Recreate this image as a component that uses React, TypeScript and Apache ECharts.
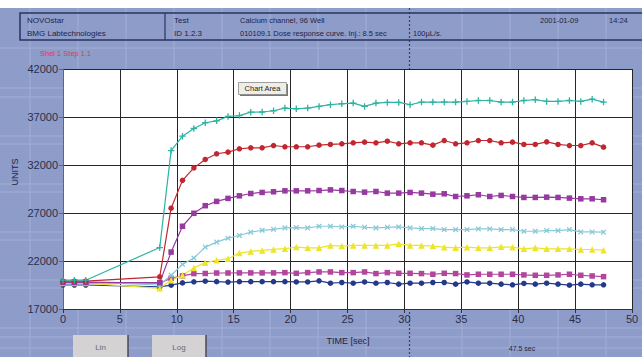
import React, { useEffect, useRef } from "react";
import * as echarts from "echarts";

const times = [0, 1, 2, 8.5, 9.5, 10.5, 11.5, 12.5, 13.5, 14.5, 15.5, 16.5, 17.5, 18.5, 19.5, 20.5, 21.5, 22.5, 23.5, 24.5, 25.5, 26.5, 27.5, 28.5, 29.5, 30.5, 31.5, 32.5, 33.5, 34.5, 35.5, 36.5, 37.5, 38.5, 39.5, 40.5, 41.5, 42.5, 43.5, 44.5, 45.5, 46.5, 47.5];

const cyanVals = [20000, 20000, 20000, 23400, 33500, 35000, 35800, 36400, 36600, 37050, 37150, 37500, 37520, 37650, 37930, 37860, 37930, 38100, 38280, 38380, 38450, 38100, 38450, 38520, 38520, 38280, 38550, 38550, 38550, 38550, 38620, 38720, 38720, 38550, 38550, 38720, 38800, 38620, 38620, 38720, 38620, 38860, 38550];
const redVals = [19900, 19900, 19900, 20350, 27500, 30400, 31700, 32580, 33170, 33340, 33690, 33790, 33790, 34030, 33900, 33900, 33900, 34070, 34140, 34210, 34310, 34380, 34310, 34480, 34210, 34310, 34310, 34070, 34550, 34210, 34310, 34550, 34550, 34310, 34380, 34140, 34140, 34410, 34140, 34030, 34030, 34310, 33860];
const purpleVals = [19750, 19750, 19750, 19750, 22930, 25620, 26970, 27760, 28210, 28520, 28790, 29030, 29140, 29210, 29310, 29310, 29310, 29340, 29410, 29340, 29240, 29170, 29240, 29070, 29070, 29140, 29070, 28960, 29000, 28720, 28790, 28900, 28720, 28830, 28720, 28620, 28620, 28650, 28620, 28550, 28480, 28480, 28380];
const lightCyanVals = [19800, 19800, 19800, 19500, 20520, 21650, 22310, 23450, 23970, 24380, 24660, 25000, 25200, 25300, 25450, 25480, 25450, 25620, 25620, 25550, 25620, 25510, 25450, 25510, 25550, 25450, 25380, 25380, 25270, 25270, 25270, 25340, 25340, 25270, 25270, 25100, 25100, 25170, 25170, 25270, 25030, 25030, 25000];
const yellowVals = [19700, 19700, 19700, 19150, 20000, 20520, 21280, 21830, 22070, 22240, 22830, 23000, 23100, 23210, 23280, 23450, 23375, 23375, 23620, 23550, 23620, 23620, 23620, 23620, 23790, 23620, 23620, 23550, 23440, 23375, 23440, 23375, 23375, 23480, 23440, 23270, 23375, 23270, 23270, 23270, 23200, 23200, 23130];
const magentaVals = [19800, 19800, 19800, 19700, 20200, 20450, 20690, 20700, 20750, 20750, 20760, 20760, 20760, 20760, 20790, 20720, 20790, 20860, 20860, 20790, 20790, 20860, 20690, 20790, 20720, 20720, 20690, 20620, 20720, 20690, 20550, 20620, 20620, 20620, 20620, 20550, 20510, 20510, 20550, 20620, 20510, 20440, 20370];
const blueVals = [19500, 19500, 19500, 19300, 19480, 19720, 19830, 19900, 19850, 19800, 19850, 19850, 19850, 19850, 19850, 19820, 19820, 19930, 19690, 19760, 19690, 19820, 19690, 19760, 19590, 19690, 19690, 19760, 19760, 19590, 19820, 19690, 19690, 19590, 19520, 19660, 19590, 19690, 19590, 19480, 19590, 19520, 19520];

const xTicks = { min: 0, max: 50, interval: 5 };
const yTicks = { min: 17000, max: 42000, interval: 5000 };

const PLUS = "path://M4,0h2v4h4v2h-4v4h-2v-4h-4v-2h4z";

const seriesDefs = [
  { name: "blue", color: "#23398a", symbol: "circle", size: 5.5, rotate: 0, vals: blueVals },
  { name: "magenta", color: "#b2459c", symbol: "rect", size: 5.5, rotate: 0, vals: magentaVals },
  { name: "yellow", color: "#ece52c", symbol: "triangle", size: 6.5, rotate: 0, vals: yellowVals },
  { name: "lightcyan", color: "#88c9d8", symbol: PLUS, size: 6.5, rotate: 45, vals: lightCyanVals },
  { name: "purple", color: "#963a9f", symbol: "rect", size: 5.5, rotate: 0, vals: purpleVals },
  { name: "red", color: "#c2262f", symbol: "circle", size: 5.5, rotate: 0, vals: redVals },
  { name: "cyan", color: "#2cb3a2", symbol: PLUS, size: 6.5, rotate: 0, vals: cyanVals },
];

const FONT = "Liberation Sans, Arial, sans-serif";
const BG = "#8e9cc9";
const TEX = "#a2aed6";

function buildGraphic() {
  const els: any[] = [];
  const vx = [30, 78, 126, 174, 222, 270, 318, 366, 462, 510, 558, 606];
  vx.forEach((x) =>
    els.push({ type: "line", z: -30, shape: { x1: x, y1: 8, x2: x, y2: 357 }, style: { stroke: TEX, lineWidth: 1 } })
  );
  const hy = [48, 88, 97, 136, 144, 184, 192, 232, 240, 280, 288, 328, 337, 348];
  hy.forEach((y) =>
    els.push({ type: "line", z: -30, shape: { x1: 0, y1: y, x2: 642, y2: y }, style: { stroke: TEX, lineWidth: 1 } })
  );
  els.push({ type: "rect", z: -29, shape: { x: 0, y: 0, width: 642, height: 8 }, style: { fill: "#ffffff" } });
  els.push({ type: "line", z: -28, shape: { x1: 409.5, y1: 8, x2: 409.5, y2: 357 }, style: { stroke: "#3a3f5a", lineWidth: 1.2, lineDash: [2, 2] } });
  els.push({ type: "rect", shape: { x: 20, y: 13, width: 640, height: 27 }, style: { fill: "none", stroke: "#2a3360", lineWidth: 1.5 } });
  els.push({ type: "line", shape: { x1: 165, y1: 13, x2: 165, y2: 40 }, style: { stroke: "#2a3360", lineWidth: 1.2 } });
  const hdr = (text: string, x: number, y: number, size = 8) =>
    els.push({ type: "text", x, y, style: { text, fontSize: size, fontFamily: FONT, fill: "#1f2444", textVerticalAlign: "middle" } });
  hdr("NOVOstar", 27, 20);
  hdr("BMG Labtechnologies", 27, 33);
  hdr("Test", 174, 20);
  hdr("ID 1.2.3", 174, 33);
  hdr("Calcium channel, 96 Well", 240, 20, 7.5);
  hdr("010109.1 Dose response curve. Inj.: 8.5 sec", 240, 33, 7.5);
  hdr("100µL/s.", 413, 33, 7.5);
  hdr("2001-01-09", 540, 20, 7.5);
  hdr("14:24", 609, 20, 7.5);
  els.push({ type: "text", x: 40, y: 53, style: { text: "Shel 1 Step 1.1", fontSize: 7.5, fontFamily: FONT, fill: "#e8344a", textVerticalAlign: "middle" } });
  els.push({ type: "text", x: 15, y: 172, rotation: Math.PI / 2, style: { text: "UNITS", fontSize: 9, fontFamily: FONT, fill: "#1f2444", textAlign: "center", textVerticalAlign: "middle" } });
  els.push({ type: "text", x: 348, y: 341, style: { text: "TIME [sec]", fontSize: 9, fontFamily: FONT, fill: "#1f2444", textAlign: "center", textVerticalAlign: "middle" } });
  els.push({ type: "text", x: 522, y: 348, style: { text: "47.5 sec", fontSize: 7, fontFamily: FONT, fill: "#1f2444", textAlign: "center", textVerticalAlign: "middle" } });
  els.push({ type: "rect", shape: { x: 240, y: 84, width: 48, height: 12 }, style: { fill: "#777" } });
  els.push({ type: "rect", shape: { x: 238.5, y: 82.5, width: 48, height: 12 }, style: { fill: "#efeee6", stroke: "#888", lineWidth: 0.8 } });
  els.push({ type: "text", x: 262.5, y: 88.5, style: { text: "Chart Area", fontSize: 7.5, fontFamily: FONT, fill: "#222", textAlign: "center", textVerticalAlign: "middle" } });
  const btn = (label: string, x: number, w: number) => {
    els.push({ type: "rect", shape: { x, y: 335, width: w, height: 22 }, style: { fill: "#d5d2d4" } });
    els.push({ type: "line", shape: { x1: x + w, y1: 335, x2: x + w, y2: 357 }, style: { stroke: "#4a4a55", lineWidth: 1.5 } });
    els.push({ type: "text", x: x + w / 2, y: 347, style: { text: label, fontSize: 8, fontFamily: FONT, fill: "#6a6a72", textAlign: "center", textVerticalAlign: "middle" } });
  };
  btn("Lin", 73, 55);
  btn("Log", 152, 54);
  return els;
}

export default function App() {
  const ref = useRef<HTMLDivElement>(null);
  useEffect(() => {
    document.body.style.margin = "0";
    if (!ref.current) return;
    const chart = echarts.init(ref.current, null, { renderer: "svg" });
    chart.setOption({
      animation: false,
      backgroundColor: BG,
      grid: { left: 63, right: 10, top: 69, bottom: 48, show: true, backgroundColor: "#ffffff", borderWidth: 0 },
      xAxis: {
        type: "value",
        min: xTicks.min,
        max: xTicks.max,
        interval: xTicks.interval,
        axisLine: { show: true, lineStyle: { color: "#333", width: 1 } },
        axisTick: { show: true, length: 4, lineStyle: { color: "#333" } },
        axisLabel: { color: "#2a2e4c", fontSize: 11, fontFamily: FONT, margin: 4, formatter: (v: number) => String(v) },
        splitLine: { show: true, showMinLine: false, lineStyle: { color: "#262626", width: 1 } },
      },
      yAxis: {
        type: "value",
        min: yTicks.min,
        max: yTicks.max,
        interval: yTicks.interval,
        axisLine: { show: true, lineStyle: { color: "#e0303a", width: 1 } },
        axisTick: { show: true, length: 4, lineStyle: { color: "#e0303a" } },
        axisLabel: { color: "#2a2e4c", fontSize: 11, fontFamily: FONT, margin: 5, formatter: (v: number) => String(v) },
        splitLine: { show: true, showMinLine: false, lineStyle: { color: "#262626", width: 1 } },
      },
      series: seriesDefs.map((s) => ({
        type: "line",
        name: s.name,
        data: times.map((t, i) => [t, s.vals[i]]),
        symbol: s.symbol,
        symbolSize: s.size,
        symbolRotate: s.rotate,
        showAllSymbol: true,
        lineStyle: { color: s.color, width: 1.2 },
        itemStyle: { color: s.color },
        z: 3,
      })),
      graphic: buildGraphic(),
    });
    return () => chart.dispose();
  }, []);
  return <div ref={ref} style={{ width: 642, height: 357 }} />;
}
